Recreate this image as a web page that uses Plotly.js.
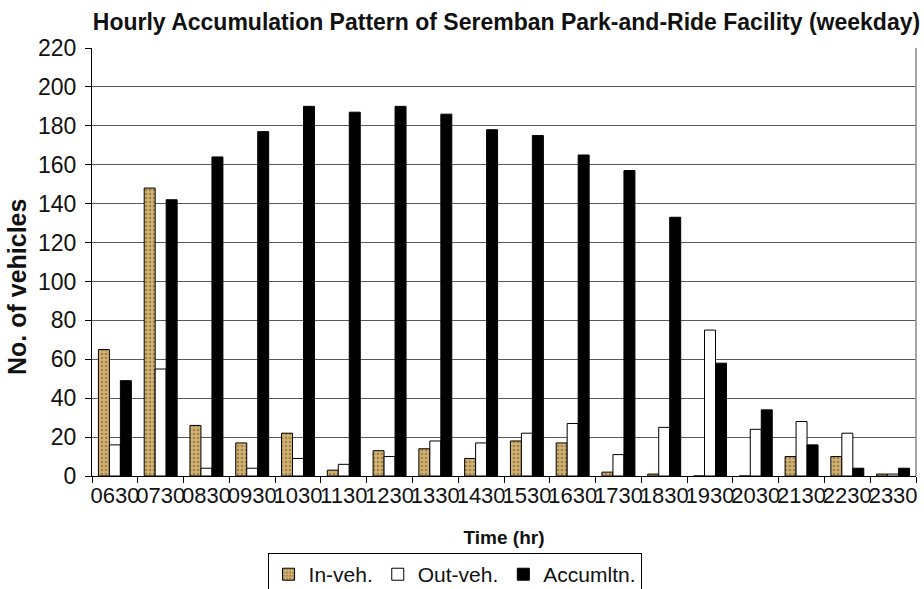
<!DOCTYPE html>
<html>
<head>
<meta charset="utf-8">
<script src="https://cdn.plot.ly/plotly-3.0.1.min.js"></script>
<style>html,body{margin:0;padding:0;background:#fff;}#chart{width:924px;height:589px;}</style>
</head>
<body>
<div id="chart"></div>
<script>
var times = ["0630","0730","0830","0930","1030","1130","1230","1330","1430","1530","1630","1730","1830","1930","2030","2130","2230","2330"];
var inVeh = [65,148,26,17,22,3,13,14,9,18,17,2,1,0,0,10,10,1];
var outVeh = [16,55,4,4,9,6,10,18,17,22,27,11,25,75,24,28,22,1];
var accum = [49,142,164,177,190,187,190,186,178,175,165,157,133,58,34,16,4,4];
var yTicks = [0,20,40,60,80,100,120,140,160,180,200,220];

var font = "Liberation Sans, Arial, sans-serif";
var traces = [
  {type:"bar", name:"In-veh.", x:times, y:inVeh,
   marker:{color:"#d2b273", line:{color:"#000", width:1},
     pattern:{shape:".", fillmode:"overlay", fgcolor:"#6e5224", bgcolor:"#d2b273", size:4, solidity:0.35}}},
  {type:"bar", name:"Out-veh.", x:times, y:outVeh,
   marker:{color:"#ffffff", line:{color:"#000", width:1}}},
  {type:"bar", name:"Accumltn.", x:times, y:accum,
   marker:{color:"#000000", line:{color:"#000", width:1}}}
];
var layout = {
  width:924, height:589,
  margin:{l:92, r:8, t:48, b:113},
  paper_bgcolor:"#fff", plot_bgcolor:"#fff",
  barmode:"group", bargap:0.28, bargroupgap:0,
  title:{text:"<b>Hourly Accumulation Pattern of Seremban Park-and-Ride Facility (weekday)</b>",
    font:{family:font, size:23, color:"#111"}, x:0.503, xref:"paper", xanchor:"center",
    y:0.962, yref:"container", yanchor:"middle", automargin:false},
  xaxis:{type:"category", tickson:"boundaries", ticks:"outside", ticklen:6, tickcolor:"#000",
    tickangle:0, automargin:false,
    showline:true, linecolor:"#000", linewidth:1, showgrid:false,
    tickfont:{family:font, size:22, color:"#111"},
    title:{text:"<b>Time (hr)</b>", font:{family:font, size:19, color:"#111"}, standoff:23}},
  yaxis:{range:[0,220], tickvals:yTicks, ticktext:yTicks.map(String), ticks:"outside", ticklen:6, tickcolor:"#000",
    ticklabelstandoff:4, automargin:false,
    showline:true, linecolor:"#000", linewidth:1, showgrid:true, gridcolor:"#5a5a5a", gridwidth:1,
    zeroline:false, tickfont:{family:font, size:23, color:"#111"}},
  annotations:[{text:"<b>No. of vehicles</b>", textangle:-90, showarrow:false,
    xref:"paper", yref:"paper", x:-0.091, y:0.4416, xanchor:"center", yanchor:"middle",
    font:{family:font, size:25, color:"#111"}}],
  shapes:[{type:"line", xref:"paper", yref:"paper", x0:1, x1:1, y0:0, y1:1, line:{color:"#8a8a8a", width:1.5}}],
  legend:{orientation:"h", x:0.44, xanchor:"center", xref:"paper", y:0.061, yref:"container", yanchor:"top",
    bordercolor:"#000", borderwidth:1, bgcolor:"#fff",
    font:{family:font, size:21, color:"#111"}, itemwidth:30, tracegroupgap:0},
  showlegend:true
};
Plotly.newPlot("chart", traces, layout, {staticPlot:true});
</script>
</body>
</html>
